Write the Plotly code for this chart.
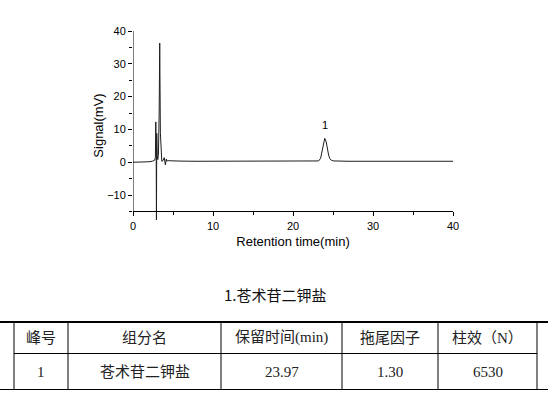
import plotly.graph_objects as go

# ---- chromatogram data ----
time_min = [0.0, 1.0, 2.0, 2.4, 2.7, 2.8, 2.85, 2.9, 2.93, 2.97, 3.03, 3.1, 3.18,
            3.27, 3.34, 3.42, 3.5, 3.6, 3.75, 3.9, 3.97, 4.05, 4.1, 4.17, 4.22,
            4.35, 4.6, 5.0, 6.0, 8.0, 12.0, 16.0, 20.0, 22.5, 23.2, 23.45, 23.65,
            23.8, 23.97, 24.15, 24.3, 24.45, 24.6, 24.8, 25.1, 25.6, 27.0, 30.0,
            34.0, 37.0, 40.0]
signal_mv = [0.0, 0.0, 0.15, 0.3, 0.6, 1.5, 12.3, 3.0, -17.6, 8.8, 2.0, 0.8, 2.5,
             15.0, 36.3, 9.0, 1.5, 0.3, 0.5, 1.4, 0.4, -0.8, 0.2, 1.0, 0.3,
             0.5, 0.45, 0.4, 0.35, 0.3, 0.3, 0.3, 0.3, 0.3, 0.4, 1.2, 3.6,
             6.0, 7.3, 6.2, 4.0, 2.2, 1.1, 0.6, 0.4, 0.35, 0.3, 0.3,
             0.3, 0.3, 0.3]

peak_label = "1"
peak_time = 23.97
peak_height = 7.3

x_ticks = [0, 10, 20, 30, 40]
y_ticks = [-10, 0, 10, 20, 30, 40]

caption = "1.苍术苷二钾盐"
table_header = ["峰号", "组分名", "保留时间(min)", "拖尾因子", "柱效（N）"]
table_row = ["1", "苍术苷二钾盐", "23.97", "1.30", "6530"]

# ---- layout geometry (pixels) ----
W, H = 548, 395
ML, MR, MT, MB = 133, 95, 31, 175
PW, PH = W - ML - MR, H - MT - MB
Y_LO, Y_HI = -17.6, 40
X_AXIS_AT = -15

def px_x(px):
    return (px - ML) / PW

def px_y(py):
    return (H - MB - py) / PH

fig = go.Figure()
fig.add_trace(go.Scatter(x=time_min, y=signal_mv, mode="lines",
                         line=dict(color="#1e1e1e", width=1), showlegend=False,
                         hoverinfo="skip"))

axis_font = dict(family="Liberation Sans, Arial, sans-serif", size=11, color="#000")

fig.update_layout(
    width=W, height=H, autosize=False,
    margin=dict(l=ML, r=MR, t=MT, b=MB, pad=0),
    paper_bgcolor="white", plot_bgcolor="white",
    font=axis_font,
    xaxis=dict(range=[0, 40], tickvals=x_ticks, showgrid=False, zeroline=False,
               showline=True, linecolor="#000", linewidth=1,
               ticks="outside", ticklen=4, tickcolor="#000", tickwidth=1,
               minor=dict(dtick=5, tick0=0, ticks="outside", ticklen=3, tickcolor="#000"),
               anchor="free", position=(X_AXIS_AT - Y_LO) / (Y_HI - Y_LO),
               tickfont=axis_font,
               title=dict(text="Retention time(min)", standoff=6,
                          font=dict(family="Liberation Sans, Arial, sans-serif", size=13, color="#000"))),
    yaxis=dict(range=[Y_LO, Y_HI], tickvals=y_ticks, showgrid=False, zeroline=False,
               showline=False,
               ticks="outside", ticklen=4, tickcolor="#000", tickwidth=1,
               minor=dict(dtick=5, tick0=0, ticks="outside", ticklen=3, tickcolor="#000"),
               tickfont=axis_font,
               title=dict(text="Signal(mV)", standoff=0,
                          font=dict(family="Liberation Sans, Arial, sans-serif", size=13, color="#000"))),
)

shapes = []
# y axis line from -15 to 40
shapes.append(dict(type="line", xref="x", yref="y", x0=0, x1=0, y0=X_AXIS_AT, y1=Y_HI,
                   line=dict(color="#000", width=1)))

# ---- table lines ----
line_c = "#000"
t_top, t_mid, t_bot = 322, 353.5, 389.5
col_edges = [14, 68, 221, 342, 438, 537]
shapes.append(dict(type="line", xref="paper", yref="paper", x0=px_x(0), x1=px_x(W),
                   y0=px_y(t_top), y1=px_y(t_top), line=dict(color=line_c, width=2)))
shapes.append(dict(type="line", xref="paper", yref="paper", x0=px_x(col_edges[0]), x1=px_x(col_edges[-1]),
                   y0=px_y(t_mid), y1=px_y(t_mid), line=dict(color=line_c, width=1)))
shapes.append(dict(type="line", xref="paper", yref="paper", x0=px_x(0), x1=px_x(W),
                   y0=px_y(t_bot), y1=px_y(t_bot), line=dict(color=line_c, width=1)))
for cx in col_edges:
    shapes.append(dict(type="line", xref="paper", yref="paper", x0=px_x(cx), x1=px_x(cx),
                       y0=px_y(t_top), y1=px_y(t_bot), line=dict(color=line_c, width=1)))
fig.update_layout(shapes=shapes)

cn_font = "Liberation Serif, 'Noto Sans CJK SC', serif"
annotations = []
annotations.append(dict(x=peak_time, y=peak_height, xref="x", yref="y", text=peak_label,
                        showarrow=False, yanchor="bottom", yshift=5,
                        font=dict(family="Liberation Sans, Arial, sans-serif", size=11, color="#000")))
annotations.append(dict(x=px_x(275), y=px_y(294), xref="paper", yref="paper", text=caption,
                        showarrow=False, xanchor="center", yanchor="middle",
                        font=dict(family="'Noto Sans CJK SC', sans-serif", size=15, color="#111")))
for i, (h, v) in enumerate(zip(table_header, table_row)):
    cxm = (col_edges[i] + col_edges[i + 1]) / 2
    annotations.append(dict(x=px_x(cxm), y=px_y(337.5), xref="paper", yref="paper", text=h,
                            showarrow=False, xanchor="center", yanchor="middle",
                            font=dict(family=cn_font, size=15, color="#222")))
    annotations.append(dict(x=px_x(cxm), y=px_y(371.5), xref="paper", yref="paper", text=v,
                            showarrow=False, xanchor="center", yanchor="middle",
                            font=dict(family=cn_font, size=15, color="#222")))
fig.update_layout(annotations=annotations)

fig.write_html("out.html", config={"displayModeBar": False},
               post_script="document.body.style.margin='0';document.body.style.overflow='hidden';")
